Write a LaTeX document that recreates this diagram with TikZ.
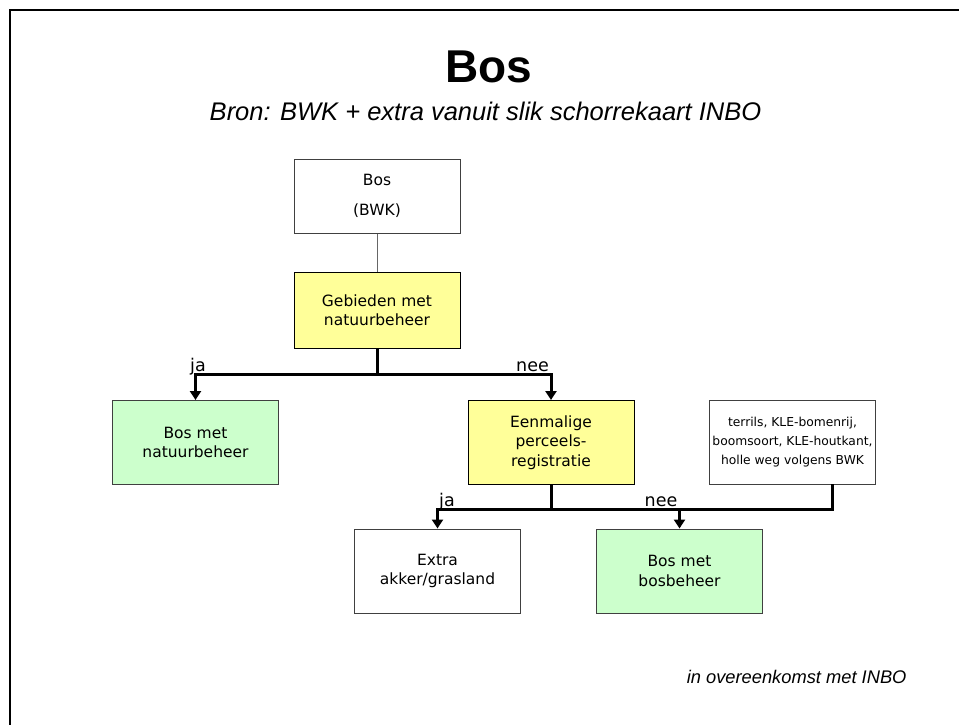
\documentclass[tikz,border=0pt]{standalone}
\usepackage{fontspec}
\setmainfont{DejaVu Sans}
\newfontfamily\arialfont{Liberation Sans}
\usetikzlibrary{arrows.meta}
\definecolor{geel}{HTML}{FFFF99}
\definecolor{groen}{HTML}{CCFFCC}
\tikzset{
	doos/.style={draw=black!75, line width=1pt, minimum width=166pt, minimum height=84pt, inner sep=0pt, align=center, font=\fontsize{15.5}{19.3}\selectfont},
	vraag/.style={doos, fill=geel, draw=black},
	uitkomst/.style={doos, fill=groen},
	tak/.style={line width=3pt},
	pijl/.style={tak, -{Triangle[width=11pt,length=9pt]}},
	antw/.style={anchor=base, inner sep=0pt, font=\fontsize{17.5}{20}\selectfont}
}
\begin{document}
\begin{tikzpicture}[x=1pt,y=-1pt]
		\useasboundingbox (0,0) rectangle (959,725);
		\draw[line width=2.8pt] (10,725) -- (10,10) -- (959,10);
		\node[anchor=base, font=\arialfont\bfseries\fontsize{46}{50}\selectfont] (titel) at (489,83) {Bos};
		\node[anchor=base, font=\arialfont\itshape\fontsize{25.5}{28}\selectfont] (bron) at (485.5,121) {Bron: BWK + extra vanuit slik schorrekaart INBO};
		% boxes
		\node[doos, minimum height=74pt] (bwk) at (377,196) {Bos\\[10.7pt](BWK)};
		\node[vraag, minimum height=76pt] (gebied) at (377,310) {Gebieden met\\natuurbeheer};
		\node[uitkomst] (bosnat) at (195.5,442.5) {Bos met\\natuurbeheer};
		\node[vraag] (eenmalig) at (551,442.5) {Eenmalige\\perceels-\\registratie};
		\node[doos, font=\fontsize{12.3}{19}\selectfont] (terrils) at (792.5,442.5) {terrils, KLE-bomenrij,\\boomsoort, KLE-houtkant,\\holle weg volgens BWK};
		\node[doos] (extra) at (437.5,571) {Extra\\akker/grasland};
		\node[uitkomst] (bosbos) at (679.5,571) {Bos met\\bosbeheer};
		\node[anchor=base east, font=\arialfont\itshape\fontsize{18.3}{21}\selectfont] (inbo) at (910,683) {in overeenkomst met INBO};
		% connectors
		\coordinate (split1) at (377,374);
		\coordinate (split2) at (551,509);
		\coordinate (terrvoet) at (832,484);
		\draw[black!60, line width=1pt] (bwk) -- (gebied);
		\draw[tak] (gebied.south) -- (split1);
		\draw[pijl] (split1) -| (bosnat.north);
		\draw[pijl] (split1) -| (eenmalig.north);
		\draw[tak] (eenmalig.south) -- (split2);
		\draw[pijl] (split2) -| (extra.north);
		\draw[tak] (terrvoet) |- (split2);
		\draw[pijl] (bosbos.north |- split2) -- (bosbos.north);
		\node[antw] (ja1) at (198,371) {ja};
		\node[antw] (nee1) at (532.5,371) {nee};
		\node[antw] (ja2) at (447,506) {ja};
		\node[antw] (nee2) at (661,506) {nee};
	\end{tikzpicture}
\end{document}
